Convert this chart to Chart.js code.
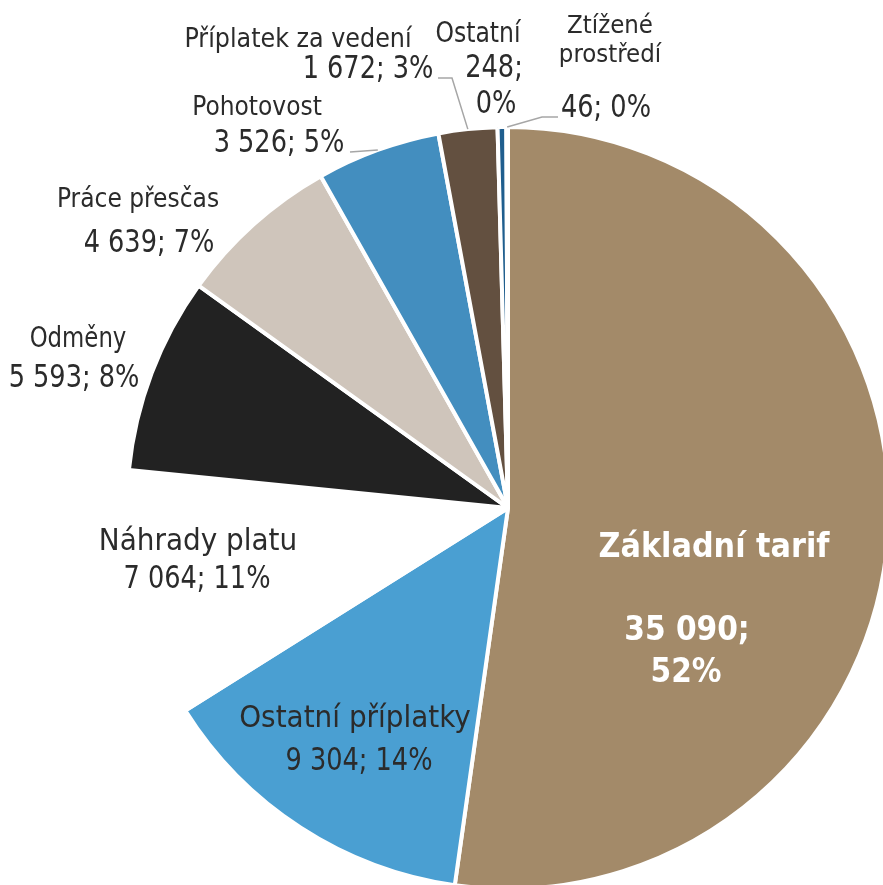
<!DOCTYPE html>
<html>
<head>
<meta charset="utf-8">
<script src="https://cdn.jsdelivr.net/npm/chart.js@4/dist/chart.umd.min.js"></script>
<style>
  html, body { margin: 0; padding: 0; overflow: hidden; background: #ffffff; width: 883px; height: 885px; }
  #wrap { position: relative; width: 883px; height: 885px; overflow: hidden; }
  #wrap canvas { position: absolute; left: 0; top: 0; }
</style>
</head>
<body>
<div id="wrap"><canvas id="pie" width="1016" height="1016"></canvas></div>
<script>
// Struktura mzdových prostředků (tis. Kč)
const categories = ['Základní tarif', 'Ostatní příplatky', 'Náhrady platu', 'Odměny', 'Práce přesčas',
                    'Pohotovost', 'Příplatek za vedení', 'Ostatní', 'Ztížené prostředí'];
const values = [35090, 9304, 7064, 5593, 4639, 3526, 1672, 248, 46];
const percentLabels = ['52%', '14%', '11%', '8%', '7%', '5%', '3%', '0%', '0%'];
const sliceColors = ['#A38A69', '#4A9FD2', '#FFFFFF', '#222222', '#CFC5BB',
                     '#438EBF', '#635040', '#1F5E8E', '#8C7A66'];

const FONT = '"DejaVu Sans Condensed", "DejaVu Sans", sans-serif';
const TEXT = '#2B2B2B';

// Label placement: each line = [template, dx, dy, size, horizontal scale] measured from the pie centre.
// Templates: {n} name, {n0}/{n1} name words, {v} value, {p} percent.
const VAL = 32, VSX = 0.89;
const labelLayout = [
  { color: '#FFFFFF', bold: true, lines: [['{n}', 206, 49, 34, 0.99], ['{v};', 179, 132, 33, 1], ['{p}', 178, 174, 33, 1]] },
  { lines: [['{n}', -153, 219, 31, 1], ['{v}; {p}', -149, 262, VAL, VSX]] },
  { lines: [['{n}', -310, 42, 31, 1], ['{v}; {p}', -311, 80, VAL, VSX]] },
  { lines: [['{n}', -430, -161, 28.5, 0.89], ['{v}; {p}', -434, -121, VAL, VSX]] },
  { lines: [['{n}', -370, -301, 26, 1], ['{v}; {p}', -359, -256, VAL, VSX]] },
  { lines: [['{n}', -251, -393, 26, 1], ['{v}; {p}', -229, -356, VAL, VSX]], leader: [[-158, -356]] },
  { lines: [['{n}', -210, -461, 26.5, 1], ['{v}; {p}', -140, -430, VAL, VSX]], leader: [[-70, -430], [-56, -430]] },
  { lines: [['{n}', -30, -466, 27.5, 0.95], ['{v};', -14, -431, VAL, VSX], ['{p}', -12, -395, VAL, VSX]] },
  { lines: [['{n0}', 102, -475, 25.5, 1], ['{n1}', 102, -446, 25.5, 1], ['{v}; {p}', 98, -391, VAL, VSX]], leader: [[50, -391], [34, -391]] }
];

function formatNumber(v) {
  return String(v).replace(/\B(?=(\d{3})+(?!\d))/g, ' ');
}

function fillTemplate(t, i) {
  const words = categories[i].split(' ');
  return t.replace('{n0}', words[0]).replace('{n1}', words.slice(1).join(' '))
          .replace('{n}', categories[i]).replace('{v}', formatNumber(values[i]))
          .replace('{p}', percentLabels[i]);
}

const sliceLabels = {
  id: 'sliceLabels',
  afterDatasetsDraw(chart) {
    const ctx = chart.ctx;
    const arcs = chart.getDatasetMeta(0).data;
    arcs.forEach((arc, i) => {
      const layout = labelLayout[i];
      if (!layout) return;
      const cx = arc.x, cy = arc.y;
      ctx.save();
      if (layout.leader) {
        const mid = (arc.startAngle + arc.endAngle) / 2;
        const ex = cx + arc.outerRadius * Math.cos(mid);
        const ey = cy + arc.outerRadius * Math.sin(mid);
        ctx.strokeStyle = '#A6A6A6';
        ctx.lineWidth = 1.5;
        ctx.beginPath();
        layout.leader.forEach((p, k) => {
          if (k === 0) ctx.moveTo(cx + p[0], cy + p[1]);
          else ctx.lineTo(cx + p[0], cy + p[1]);
        });
        ctx.lineTo(ex, ey);
        ctx.stroke();
      }
      ctx.fillStyle = layout.color || TEXT;
      ctx.textAlign = 'center';
      ctx.textBaseline = 'alphabetic';
      layout.lines.forEach(([t, dx, dy, size, sx]) => {
        ctx.save();
        ctx.font = (layout.bold ? 'bold ' : '') + size + 'px ' + FONT;
        ctx.translate(cx + dx, cy + dy);
        ctx.scale(sx, 1);
        ctx.fillText(fillTemplate(t, i), 0, 0);
        ctx.restore();
      });
      ctx.restore();
    });
  }
};

new Chart(document.getElementById('pie'), {
  type: 'pie',
  data: {
    labels: categories,
    datasets: [{
      data: values,
      backgroundColor: sliceColors,
      borderColor: '#FFFFFF',
      borderWidth: 4,
      radius: 381
    }]
  },
  options: {
    responsive: false,
    animation: false,
    events: [],
    layout: { padding: 128 },
    plugins: {
      legend: { display: false },
      tooltip: { enabled: false }
    }
  },
  plugins: [sliceLabels]
});
</script>
</body>
</html>
